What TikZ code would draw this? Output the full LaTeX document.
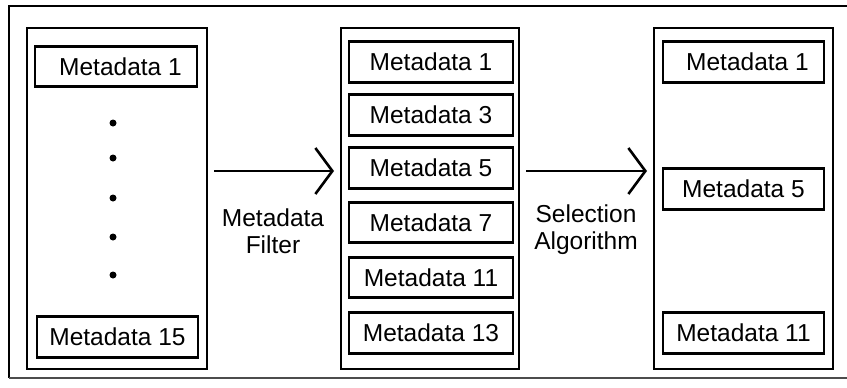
\documentclass[tikz,border=0pt]{standalone}
\usepackage{fontspec}
\setmainfont{Liberation Sans}
\usetikzlibrary{arrows.meta}
\begin{document}
\begin{tikzpicture}[x=1pt,y=-1pt,
  column/.style={draw, line width=2.6pt, inner sep=0pt, outer sep=0pt,
    minimum height=341pt},
  item/.style={draw, line width=2.8pt, inner sep=0pt, outer sep=0pt,
    minimum height=40.5pt, font=\fontsize{24.5}{27}\selectfont},
  label/.style={align=center, font=\fontsize{24.5}{27}\selectfont, inner sep=0pt},
  flow/.style={line width=2.6pt, shorten <=7pt, shorten >=7pt,
    -{Straight Barb[length=17pt,width=46pt,line width=2.6pt]}},
  dot/.style={circle, fill, inner sep=0pt, minimum size=7pt}]
  \useasboundingbox (0,0) rectangle (847,388);
  % outer frame (open to the right)
  \draw[line width=2.6pt] (847,6) -- (9,6) -- (9,378);
  \draw[line width=2pt, black!70] (9,378) -- (847,378);

  % the three columns
  \node[column, minimum width=180pt] (all)  at (117,198.5) {};
  \node[column, minimum width=178pt] (filt) at (430,198.5) {};
  \node[column, minimum width=179pt] (sel)  at (743.5,198.5) {};

  % full metadata set
  \node[item, minimum width=162pt] (a1)  at (116,66.5) {\hspace*{9pt}Metadata 1};
  \node[item, minimum width=161pt] (a15) at (117.5,337) {Metadata 15};
  \foreach \y [count=\i] in {123,158,198,237,275}
    \node[dot] (d\i) at (113,\y) {};

  % after the metadata filter
  \node[item, minimum width=164pt] (b1)  at (431,62)    {Metadata 1};
  \node[item, minimum width=164pt] (b3)  at (431,115)   {Metadata 3};
  \node[item, minimum width=164pt] (b5)  at (431,168)   {Metadata 5};
  \node[item, minimum width=164pt] (b7)  at (431,222.5) {Metadata 7};
  \node[item, minimum width=164pt] (b11) at (431,277.5) {Metadata 11};
  \node[item, minimum width=164pt] (b13) at (431,333)   {Metadata 13};

  % after the selection algorithm
  \node[item, minimum width=161pt] (c1)  at (743.5,62)  {\hspace*{8pt}Metadata 1};
  \node[item, minimum width=161pt] (c5)  at (743.5,189) {Metadata 5};
  \node[item, minimum width=161pt] (c11) at (743.5,333) {Metadata 11};

  % arrows between the columns
  \coordinate (l1) at (all.east |- 0,171);
  \coordinate (r1) at (filt.west |- 0,171);
  \coordinate (l2) at (filt.east |- 0,171);
  \coordinate (r2) at (sel.west |- 0,171);
  \draw[flow] (l1) -- (r1);
  \draw[flow] (l2) -- (r2);
  \node[label] (f) at (273,231) {Metadata\\Filter};
  \node[label] (s) at (586,230) {Selection\\Algorithm};
\end{tikzpicture}
\end{document}
